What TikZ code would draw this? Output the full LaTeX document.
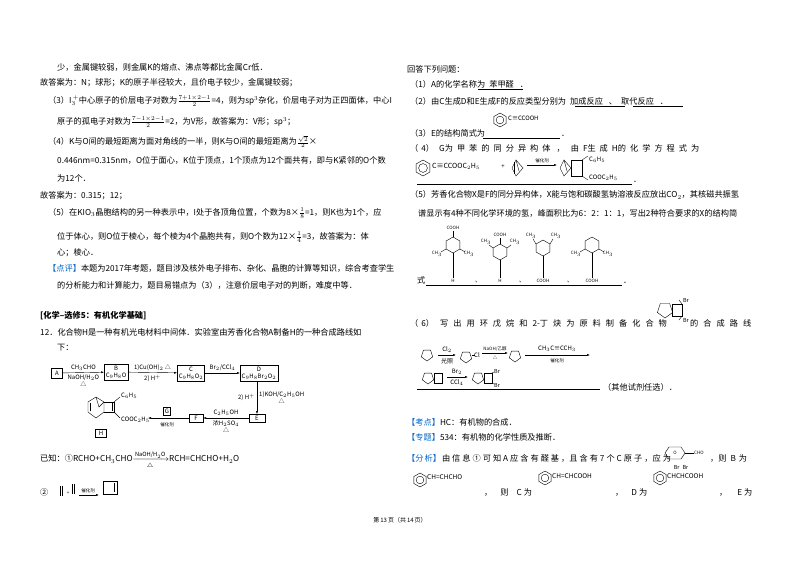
\documentclass[tikz,border=0pt]{standalone}
\usepackage{amsmath}
\usepackage{fontspec}
\setmainfont{Noto Sans CJK SC}
\usetikzlibrary{arrows.meta}
\definecolor{kb}{RGB}{0,100,200}
\tikzset{
 t/.style={anchor=west,inner sep=0,font=\fontsize{8.2}{10}\selectfont},
 s/.style={inner sep=0,font=\fontsize{6}{7}\selectfont},
 xs/.style={inner sep=0,font=\fontsize{4.5}{5}\selectfont},
 bx/.style={draw,thin,inner sep=1.5pt,font=\fontsize{6}{7}\selectfont,align=center},
 ar/.style={-{Latex[length=3pt,width=2pt]},thin},
 ul/.style={thin}
}
\newcommand\benz[3]{\draw[thin] (#1,#2) +(30:#3) -- +(90:#3) -- +(150:#3) -- +(210:#3) -- +(270:#3) -- +(330:#3) -- cycle; \draw[thin] (#1,#2) circle ({0.55*#3});}
\newcommand\pent[3]{\draw[thin] (#1,#2) +(90:#3) -- +(162:#3) -- +(234:#3) -- +(306:#3) -- +(18:#3) -- cycle;}
\newcommand\hexa[3]{\draw[thin] (#1,#2) +(30:#3) -- +(90:#3) -- +(150:#3) -- +(210:#3) -- +(270:#3) -- +(330:#3) -- cycle;}
\begin{document}
\begin{tikzpicture}[x=1pt,y=-1pt]
\useasboundingbox (0,0) rectangle (800,565);
\fill[white] (0,0) rectangle (800,565);
% ---------- left column
\node[t] (l1) at (57,67) {少，金属键较弱，则金属K的熔点、沸点等都比金属Cr低．};
\node[t] (l2) at (40,83) {故答案为：N；球形；K的原子半径较大，且价电子较少，金属键较弱；};
\node[t] (l3) at (48,101) {（3）I$_3^{\,+}$中心原子的价层电子对数为$\frac{7+1\times2-1}{2}$=4，则为sp$^3$杂化，价层电子对为正四面体，中心I};
\node[t] (l4) at (57,122) {原子的孤电子对数为$\frac{7-1\times2-1}{2}$=2，为V形，故答案为：V形；sp$^3$；};
\node[t] (l5) at (48,142) {（4）K与O间的最短距离为面对角线的一半，则K与O间的最短距离为$\frac{\sqrt2}{2}$×};
\node[t] (l6) at (57,160) {0.446nm=0.315nm，O位于面心，K位于顶点，1个顶点为12个面共有，即与K紧邻的O个数};
\node[t] (l7) at (57,178) {为12个．};
\node[t] (l8) at (40,196) {故答案为：0.315；12；};
\node[t] (l9) at (48,213) {（5）在KIO$_3$晶胞结构的另一种表示中，I处于各顶角位置，个数为8×$\frac18$=1，则K也为1个，应};
\node[t] (l10) at (57,237) {位于体心，则O位于棱心，每个棱为4个晶胞共有，则O个数为12×$\frac14$=3，故答案为：体};
\node[t] (l11) at (57,253) {心；棱心．};
\node[t] (l12) at (48,268) {\textcolor{kb}{【点评】}本题为2017年考题，题目涉及核外电子排布、杂化、晶胞的计算等知识，综合考查学生};
\node[t] (l13) at (57,285) {的分析能力和计算能力，题目易错点为（3），注意价层电子对的判断，难度中等．};
\node[t] (l14) at (40,316) {\textbf{[化学--选修5：有机化学基础]}};
\node[t] (l15) at (40,332) {12．化合物H是一种有机光电材料中间体．实验室由芳香化合物A制备H的一种合成路线如};
\node[t] (l16) at (57,348) {下：};
% flow
\node[bx,minimum width=11pt,minimum height=10pt] (A) at (57,373) {A};
\node[bx] (B) at (116,372) {B\\C$_9$H$_8$O};
\node[bx] (C) at (191,373) {C\\C$_9$H$_8$O$_2$};
\node[bx] (D) at (259,373) {D\\C$_9$H$_8$Br$_2$O$_2$};
\node[bx,minimum width=16pt] (E) at (257,418) {E};
\node[bx,minimum width=14pt] (F) at (196,418) {F};
\node[bx] (G) at (167,411) {G};
\draw[ar] (A) -- node[s,above=2pt] {CH$_3$CHO} node[s,below=2pt,align=center] {NaOH/H$_2$O\\△} (B);
\draw[ar] (B) -- node[s,above=2pt] {1)Cu(OH)$_2$ △} node[s,below=2pt] {2) H$^+$} (C);
\draw[ar] (C) -- node[s,above=2pt] {Br$_2$/CCl$_4$} (D);
\draw[ar] (D.south -| E) -- node[s,left=2pt] {2) H$^+$} node[s,right=2pt,align=center] {1)KOH/C$_2$H$_5$OH\\△} (E);
\draw[ar] (E) -- node[s,above=2pt] {C$_2$H$_5$OH} node[s,below=2pt,align=center] {浓H$_2$SO$_4$\\△} (F);
\coordinate (g2) at (148,418);
\draw[ar] (F) -- (g2);
\node[xs] (cat1) at (167,425) {催化剂};
% H structure
\draw[thin] (88,412) -- (88,402) -- (96,397) -- (104,402) -- (104,412) -- (96,418) -- cycle;
\draw[thin] (90,411) -- (90,403);
\draw[thin] (96,397) -- (99,407) -- (104,402);
\draw[thin] (104,402) -- (114,402) -- (114,412) -- (104,412);
\draw[thin] (112,403) -- (112,411);
\draw[thin] (114,402) -- (120,397); \draw[thin] (114,412) -- (120,418);
\node[s,anchor=west] (hc) at (121,396) {C$_6$H$_5$};
\node[s,anchor=west] (hco) at (121,420) {COOC$_2$H$_5$};
\node[bx,minimum width=11pt] (H) at (101,433) {H};
% known
\node[t] (k1) at (40,459) {已知：①RCHO+CH$_3$CHO\raisebox{0pt}[0pt][0pt]{$\xrightarrow[\triangle]{\text{NaOH/H}_2\text{O}}$}RCH=CHCHO+H$_2$O};
\node[t] (k2) at (40,492) {②};
\draw[thin] (60,486)--(60,496); \draw[thin] (62,486)--(62,496);
\node[xs] (pl) at (68,493) {+};
\draw[thin] (72,484)--(72,494); \draw[thin] (74,484)--(74,494);
\node[xs] (cat2) at (88,491) {催化剂};
\draw[ar] (79,495) -- (99,495);
\draw[thin] (103,481) rectangle (117,494); \draw[thin] (114,483)--(114,492);
\node[s] (pg) at (400,520) {第\,13\,页（共\,14\,页）};
% ---------- right column
\node[t] (r1) at (407,69) {回答下列问题：};
\node[t] (r2) at (410,84) {（1）A的化学名称为\hspace{4pt}苯甲醛\hspace{6pt}．};
\draw[ul] (478,89) -- (523,89);
\node[t] (r3) at (410,101) {（2）由C生成D和E生成F的反应类型分别为\hspace{4pt}加成反应\hspace{6pt}、\hspace{4pt}取代反应\hspace{6pt}．};
\draw[ul] (575,106) -- (625,106); \draw[ul] (633,106) -- (683,106);
\benz{500}{120}{7}
\node[s,anchor=west] (r3b) at (508,118) {C≡CCOOH};
\node[t] (r4) at (410,133) {（3）E的结构简式为};
\draw[ul] (483,138) -- (560,138);
\node[t] (r4d) at (561,136) {．};
\node[t] (r5) at (410,148) {（\hspace{3pt}4）\hspace{5pt}G为\hspace{4pt}甲\hspace{4pt}苯\hspace{4pt}的\hspace{4pt}同\hspace{4pt}分\hspace{4pt}异\hspace{4pt}构\hspace{4pt}体\hspace{6pt}，\hspace{6pt}由\hspace{4pt}F生\hspace{4pt}成\hspace{4pt}H的\hspace{4pt}化\hspace{4pt}学\hspace{4pt}方\hspace{4pt}程\hspace{4pt}式\hspace{4pt}为};
\benz{423}{168}{8}
\node[s,anchor=west,font=\fontsize{7}{8}\selectfont] (r5a) at (432,166) {C≡CCOOC$_2$H$_5$};
\node[s] (r5p) at (503,167) {+};
\draw[thin] (512,168) -- (516,160) -- (523,168) -- (516,176) -- (512,168) ; \draw[thin] (514,162)--(514,174);
\draw[thin] (516,160) -- (519,171);
\draw[ar] (527,165) -- (557,165);
\node[xs] (cat3) at (542,161) {催化剂};
\draw[thin] (560,168) -- (564,160) -- (571,168) -- (564,176) -- cycle; \draw[thin] (564,160) -- (567,171);
\draw[thin] (571,160) rectangle (582,176); \draw[thin] (582,160) -- (588,156); \draw[thin] (582,176) -- (588,180);
\node[s,anchor=west] (r5c) at (589,160) {C$_6$H$_5$};
\node[s,anchor=west] (r5d) at (589,178) {COOC$_2$H$_5$};
\draw[ul] (417,184) -- (632,184);
\node[t] (r5e) at (633,182) {．};
\node[t] (r6) at (410,195) {（5）芳香化合物X是F的同分异构体，X能与饱和碳酸氢钠溶液反应放出CO$_2$，其核磁共振氢};
\node[t] (r7) at (418,213) {谱显示有4种不同化学环境的氢，峰面积比为6：2：1：1，写出2种符合要求的X的结构简};
% X structures
\hexa{453}{245}{8}
\draw[thin] (453,237)--(453,231); \node[xs] (x1a) at (453,228) {COOH};
\draw[thin] (446,249)--(441,252); \node[xs] (x1b) at (437,254) {CH$_3$};
\draw[thin] (460,249)--(465,252); \node[xs] (x1c) at (469,254) {CH$_3$};
\draw[thin] (453,253)--(453,278); \node[xs] (x1d) at (453,281) {H};
\hexa{500}{252}{8}
\draw[thin] (500,244)--(500,238); \node[xs] (x2a) at (500,235) {COOH};
\draw[thin] (493,248)--(489,245); \node[xs] (x2b) at (486,242) {CH$_3$};
\draw[thin] (507,248)--(511,245); \node[xs] (x2c) at (515,242) {CH$_3$};
\draw[thin] (500,260)--(500,278); \node[xs] (x2d) at (500,281) {H};
\hexa{543}{248}{8}
\draw[thin] (536,244)--(533,239); \node[xs] (x3b) at (531,236) {CH$_3$};
\draw[thin] (550,244)--(553,239); \node[xs] (x3c) at (556,236) {CH$_3$};
\draw[thin] (543,256)--(543,278); \node[xs] (x3d) at (543,281) {COOH};
\hexa{592}{245}{8}
\draw[thin] (585,249)--(580,252); \node[xs] (x4b) at (576,254) {CH$_3$};
\draw[thin] (599,249)--(604,252); \node[xs] (x4c) at (608,254) {CH$_3$};
\draw[thin] (592,253)--(592,278); \node[xs] (x4d) at (592,281) {COOH};
\node[t] (r8) at (417,280) {式};
\draw[ul] (426,285) -- (622,285);
\node[s] (c1) at (478,282) {、}; \node[s] (c2) at (522,282) {、}; \node[s] (c3) at (570,282) {、};
\node[t] (r8d) at (623,283) {．};
% (6)
\node[t] (r9) at (410,323) {（\hspace{3pt}6）\hspace{6pt}写\hspace{5pt}出\hspace{5pt}用\hspace{5pt}环\hspace{5pt}戊\hspace{5pt}烷\hspace{5pt}和\hspace{5pt}2-丁\hspace{5pt}炔\hspace{5pt}为\hspace{5pt}原\hspace{5pt}料\hspace{5pt}制\hspace{5pt}备\hspace{5pt}化\hspace{5pt}合\hspace{5pt}物};
\pent{665}{310}{8}
\draw[thin] (672,304) rectangle (682,316);
\draw[thin] (682,304) -- (679,300); \draw[thin] (682,316) -- (679,320);
\node[xs,font=\fontsize{5.5}{6}\selectfont] (br1) at (686,300) {Br};
\node[xs,font=\fontsize{5.5}{6}\selectfont] (br2) at (686,320) {Br};
\node[t] (r9b) at (690,323) {的\hspace{5pt}合\hspace{5pt}成\hspace{5pt}路\hspace{5pt}线};
\pent{427}{355}{6}
\draw[ar] (438,355) -- (456,355);
\node[s] (q1) at (447,350) {Cl$_2$}; \node[s] (q2) at (447,361) {光照};
\pent{466}{357}{6} \draw[thin] (472,355)--(475,355); \node[s,anchor=west] (q3) at (474,355) {Cl};
\draw[ar] (482,353) -- (508,353);
\node[xs] (q4) at (495,349) {NaOH/乙醇}; \node[xs] (q5) at (495,358) {△};
\pent{515}{356}{6}
\draw[ar] (525,355) -- (590,355);
\node[s] (q6) at (557,349) {CH$_3$C≡CCH$_3$}; \node[xs] (q7) at (557,361) {催化剂};
\pent{428}{378}{6}
\draw[thin] (434,373) rectangle (442,383);
\draw[ar] (447,377) -- (468,377);
\node[s] (q8) at (457,372) {Br$_2$}; \node[s] (q9) at (457,383) {CCl$_4$};
\pent{478}{378}{6}
\draw[thin] (484,373) rectangle (492,383); \draw[thin] (492,373)--(494,372); \draw[thin] (492,383)--(494,384);
\node[xs,anchor=west,font=\fontsize{5.5}{6}\selectfont] (q10) at (494,371) {Br};
\node[xs,anchor=west,font=\fontsize{5.5}{6}\selectfont] (q11) at (494,385) {Br};
\draw[ul] (417,389) -- (600,389);
\node[t] (r10) at (603,387) {（其他试剂任选）．};
\node[t] (r11) at (407,422) {\textcolor{kb}{【考点】}HC：有机物的合成．};
\node[t] (r12) at (407,437) {\textcolor{kb}{【专题】}534：有机物的化学性质及推断．};
\node[t] (r13) at (407,458) {\textcolor{kb}{【分\hspace{1pt}析】}\hspace{1pt}由\hspace{2pt}信\hspace{2pt}息\hspace{2pt}①\hspace{2pt}可\hspace{2pt}知\hspace{2pt}A\hspace{2pt}应\hspace{2pt}含\hspace{2pt}有\hspace{2pt}醛\hspace{2pt}基\hspace{2pt}，且\hspace{2pt}含\hspace{2pt}有\hspace{2pt}7\hspace{2pt}个\hspace{2pt}C\hspace{2pt}原\hspace{2pt}子\hspace{2pt}，应\hspace{2pt}为};
\draw[thin] (665,453) -- (669,447) -- (681,447) -- (685,453) -- (681,459) -- (669,459) -- cycle;
\node[xs] (o1) at (675,453) {O}; \draw[thin] (685,453)--(694,453);
\node[xs,anchor=west] (o2) at (694,453) {CHO};
\node[t] (r13b) at (710,458) {，则\hspace{4pt}B\hspace{3pt}为};
\benz{420}{480}{7}
\node[s,anchor=west,font=\fontsize{6.5}{7}\selectfont] (b1) at (427,477) {CH=CHCHO};
\node[t] (r14a) at (484,492) {，\hspace{8pt}则\hspace{8pt}C\hspace{2pt}为};
\benz{545}{478}{7}
\node[s,anchor=west,font=\fontsize{6.5}{7}\selectfont] (c1b) at (552,476) {CH=CHCOOH};
\node[t] (r14b) at (615,492) {，\hspace{8pt}D\hspace{2pt}为};
\benz{660}{478}{7}
\node[s,anchor=west,font=\fontsize{6.5}{7}\selectfont] (d1) at (667,476) {CHCHCOOH};
\node[s,font=\fontsize{5.5}{6}\selectfont] (d2) at (681,467) {Br\hspace{3pt}Br};
\node[t] (r14c) at (719,492) {，\hspace{10pt}E\hspace{2pt}为};
\end{tikzpicture}
\end{document}
